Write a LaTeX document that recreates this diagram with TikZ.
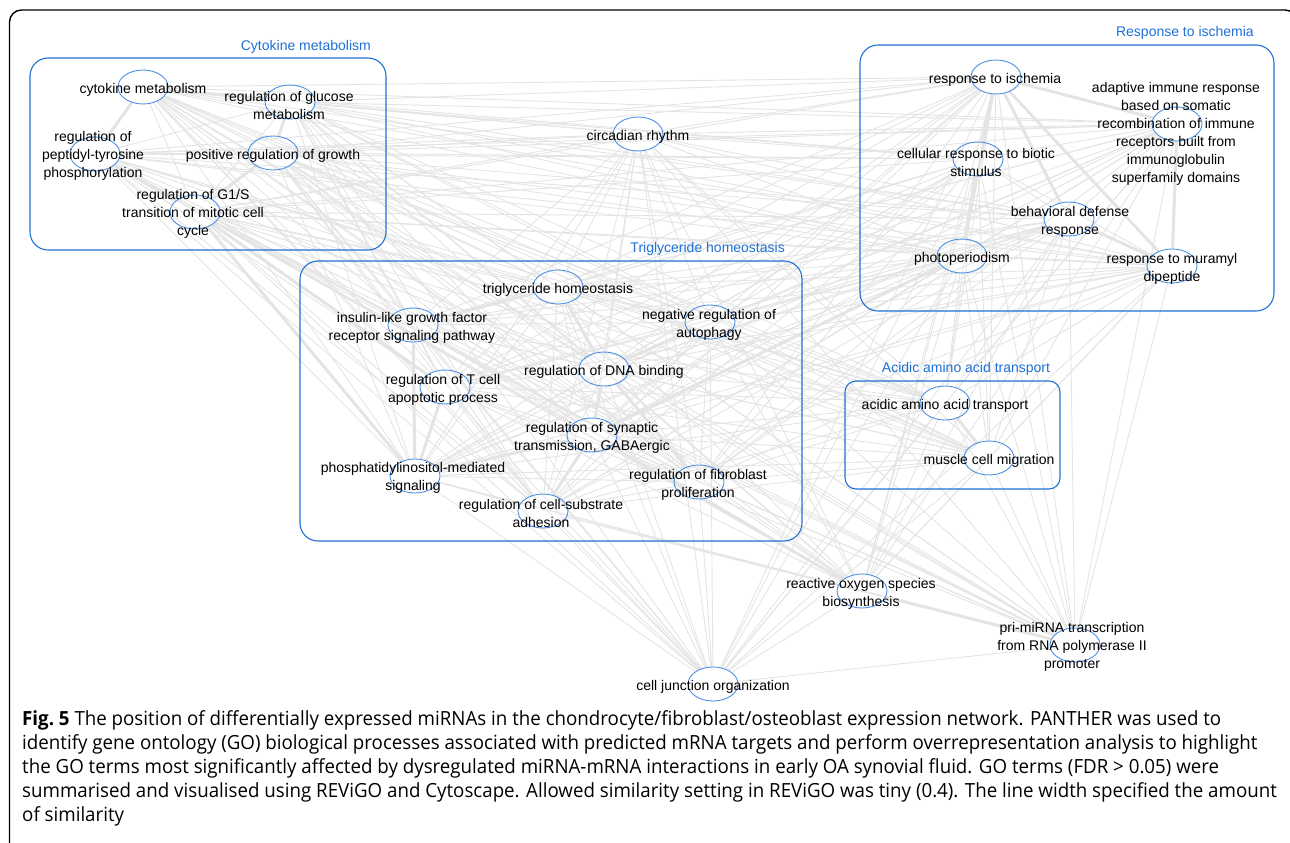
\documentclass[tikz,border=0pt]{standalone}
\usepackage{fontspec}
\setmainfont{Liberation Sans}
\newfontfamily\capfont[FakeStretch=0.96]{Open Sans}
\usetikzlibrary{shapes.geometric, positioning}
\pgfdeclarelayer{background}
\pgfsetlayers{background,main}

\definecolor{grpblue}{RGB}{30,112,214}
\definecolor{termblue}{RGB}{74,144,226}
\definecolor{edgegray}{RGB}{228,228,228}

\tikzset{
    term/.style={ellipse, draw=termblue, line width=0.9pt, minimum width=50pt, minimum height=34pt, inner sep=0pt},
    lbl/.style={align=center, inner sep=0pt, yshift=-1.5pt, font=\fontsize{14}{18}\selectfont},
    grpbox/.style={draw=grpblue, line width=1.1pt, rounded corners=18pt},
    grplbl/.style={text=grpblue, inner sep=0pt, yshift=-1pt, font=\fontsize{14}{16}\selectfont},
    edge/.style={draw=edgegray, line width=0.9pt},
    thick edge/.style={draw=edgegray, line width=3pt}
}

\def\termlist{cytmet,gluc,ptyr,posgr,gones,circ,isch,adapt,biotic,behav,photo,muram,trig,igf,autoph,dna,tcell,gaba,phos,fibro,adhes,acid,muscle,ros,primirna,celljunc}

\begin{document}
\begin{tikzpicture}[x=1pt, y=-1pt]
    \useasboundingbox (0,0) rectangle (1290,843);
    \clip (0,0) rectangle (1290,843);

    % outer frame
    \draw[line width=1.4pt, rounded corners=12pt] (9.5,880) -- (9.5,10) -- (1297,10) -- (1297,880);

    % group boxes
    \draw[grpbox] (30,58) rectangle (386,250);
    \draw[grpbox] (860,45) rectangle (1274,311);
    \draw[grpbox] (300,261) rectangle (802,541);
    \draw[grpbox, rounded corners=11pt] (845,381) rectangle (1060,489);
    \node[grplbl, anchor=east] (cytgrp) at (371,46) {Cytokine metabolism};
    \node[grplbl, anchor=east] (ischgrp) at (1254,32) {Response to ischemia};
    \node[grplbl, anchor=east] (triggrp) at (785,248) {Triglyceride homeostasis};
    \node[grplbl] (acidgrp) at (966,368) {Acidic amino acid transport};

    % GO terms
    \node[term] (cytmet) at (143,87) {};
    \node[term] (gluc) at (290,102) {};
    \node[term] (ptyr) at (95,154) {};
    \node[term] (posgr) at (273,153) {};
    \node[term] (gones) at (195,212) {};
    \node[term] (circ) at (638,134) {};
    \node[term] (isch) at (996,77) {};
    \node[term] (adapt) at (1177,124) {};
    \node[term] (biotic) at (978,159) {};
    \node[term] (behav) at (1069,219) {};
    \node[term] (photo) at (962,256) {};
    \node[term] (muram) at (1172,266) {};
    \node[term] (trig) at (558,287) {};
    \node[term] (igf) at (413,325) {};
    \node[term] (autoph) at (710,322) {};
    \node[term] (dna) at (604,369) {};
    \node[term] (tcell) at (445,387) {};
    \node[term] (gaba) at (592,435) {};
    \node[term] (phos) at (415,476) {};
    \node[term] (fibro) at (699,482) {};
    \node[term] (adhes) at (543,511) {};
    \node[term] (acid) at (945,403) {};
    \node[term] (muscle) at (989,458) {};
    \node[term] (ros) at (862,591) {};
    \node[term] (primirna) at (1075,645) {};
    \node[term] (celljunc) at (713,684) {};

    % term labels
    \node[lbl] (cytmetL) at (143,88) {cytokine metabolism};
    \node[lbl] (glucL) at (289,104) {regulation of glucose\\metabolism};
    \node[lbl] (ptyrL) at (93,154) {regulation of\\peptidyl-tyrosine\\phosphorylation};
    \node[lbl] (posgrL) at (273,154) {positive regulation of growth};
    \node[lbl] (gonesL) at (193,212) {regulation of G1/S\\transition of mitotic cell\\cycle};
    \node[lbl] (circL) at (638,135) {circadian rhythm};
    \node[lbl] (ischL) at (995,78) {response to ischemia};
    \node[lbl] (adaptL) at (1176,132) {adaptive immune response\\based on somatic\\recombination of immune\\receptors built from\\immunoglobulin\\superfamily domains};
    \node[lbl] (bioticL) at (976,161) {cellular response to biotic\\stimulus};
    \node[lbl] (behavL) at (1070,220) {behavioral defense\\response};
    \node[lbl] (photoL) at (962,257) {photoperiodism};
    \node[lbl] (muramL) at (1172,267) {response to muramyl\\dipeptide};
    \node[lbl] (trigL) at (558,288) {triglyceride homeostasis};
    \node[lbl] (igfL) at (412,326) {insulin-like growth factor\\receptor signaling pathway};
    \node[lbl] (autophL) at (709,323) {negative regulation of\\autophagy};
    \node[lbl] (dnaL) at (604,370) {regulation of DNA binding};
    \node[lbl] (tcellL) at (443,388) {regulation of T cell\\apoptotic process};
    \node[lbl] (gabaL) at (592,436) {regulation of synaptic\\transmission, GABAergic};
    \node[lbl] (phosL) at (413,476) {phosphatidylinositol-mediated\\signaling};
    \node[lbl] (fibroL) at (698,483) {regulation of fibroblast\\proliferation};
    \node[lbl] (adhesL) at (541,512) {regulation of cell-substrate\\adhesion};
    \node[lbl] (acidL) at (945,404) {acidic amino acid transport};
    \node[lbl] (muscleL) at (989,459) {muscle cell migration};
    \node[lbl] (rosL) at (861,592) {reactive oxygen species\\biosynthesis};
    \node[lbl] (primirnaL) at (1072,645) {pri-miRNA transcription\\from RNA polymerase II\\promoter};
    \node[lbl] (celljuncL) at (713,685) {cell junction organization};

    % similarity edges
    \begin{pgfonlayer}{background}
        \foreach \a [count=\i] in \termlist {
            \foreach \b [count=\j] in \termlist {
                \ifnum\j>\i \draw[edge] (\a) -- (\b); \fi
            }
        }
        \draw[thick edge] (cytmet) -- (gluc);
        \draw[thick edge] (cytmet) -- (ptyr);
        \draw[thick edge] (gluc) -- (posgr);
        \draw[thick edge] (posgr) -- (gones);
        \draw[thick edge] (ptyr) -- (gones);
        \draw[thick edge] (gones) -- (tcell);
        \draw[thick edge] (gones) -- (phos);
        \draw[thick edge] (isch) -- (biotic);
        \draw[thick edge] (isch) -- (photo);
        \draw[thick edge] (biotic) -- (photo);
        \draw[thick edge] (isch) -- (behav);
        \draw[thick edge] (isch) -- (muram);
        \draw[thick edge] (behav) -- (muram);
        \draw[thick edge] (adapt) -- (muram);
        \draw[thick edge] (adapt) -- (isch);
        \draw[thick edge] (trig) -- (dna);
        \draw[thick edge] (trig) -- (igf);
        \draw[thick edge] (dna) -- (gaba);
        \draw[thick edge] (gaba) -- (phos);
        \draw[thick edge] (tcell) -- (phos);
        \draw[thick edge] (igf) -- (phos);
        \draw[thick edge] (gaba) -- (adhes);
        \draw[thick edge] (dna) -- (fibro);
        \draw[thick edge] (autoph) -- (dna);
        \draw[thick edge] (photo) -- (gaba);
        \draw[thick edge] (acid) -- (muscle);
        \draw[thick edge] (ros) -- (primirna);
        \draw[thick edge] (ros) -- (gaba);
    \end{pgfonlayer}

    % caption
    \node[anchor=north west, align=left, inner sep=0pt, font=\capfont\fontsize{19.5}{24.2}\selectfont] (caption) at (22,710)
        {\textbf{Fig.~5} The position of differentially expressed miRNAs in the chondrocyte/fibroblast/osteoblast expression network. PANTHER was used to\\
        identify gene ontology (GO) biological processes associated with predicted mRNA targets and perform overrepresentation analysis to highlight\\
        the GO terms most significantly affected by dysregulated miRNA-mRNA interactions in early OA synovial fluid. GO terms (FDR > 0.05) were\\
        summarised and visualised using REViGO and Cytoscape. Allowed similarity setting in REViGO was tiny (0.4). The line width specified the amount\\
        of similarity};
\end{tikzpicture}
\end{document}
